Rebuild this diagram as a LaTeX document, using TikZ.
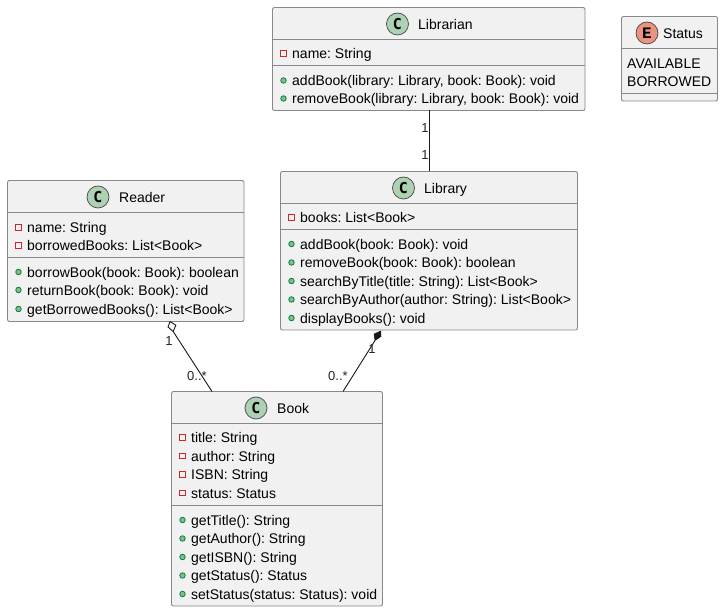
\documentclass[tikz,border=0pt]{standalone}
\usepackage{fontspec}
\setmainfont{Liberation Sans}
\newfontfamily\iconfont{Liberation Mono}
\newfontfamily\iconfontc{DejaVu Sans Mono}
\definecolor{boxfill}{HTML}{F1F1F1}
\definecolor{boxline}{HTML}{888888}
\definecolor{edge}{HTML}{181818}
\definecolor{classc}{HTML}{ADD1B2}
\definecolor{enumc}{HTML}{EB937F}
\definecolor{privc}{HTML}{C82930}
\definecolor{pubc}{HTML}{84BE84}
\definecolor{publ}{HTML}{038048}
\tikzset{
  classbox/.style={draw=boxline,fill=boxfill,line width=0.9pt,rounded corners=2pt,anchor=north west,inner sep=0pt,outer sep=0pt},
  sepline/.style={draw=boxline,line width=0.9pt},
  badge/.style={circle,draw=edge!80,line width=0.7pt,minimum size=22pt,inner sep=0pt,font=\iconfontc\bfseries\fontsize{15}{15}\selectfont},
  ebadge/.style={badge,font=\iconfont\bfseries\fontsize{16}{16}\selectfont},
  rowtext/.style={anchor=base west,inner sep=0pt,font=\frenchspacing\fontsize{14}{14}\selectfont,text=black},
  titletext/.style={rowtext},
  mult/.style={anchor=base,inner sep=0pt,font=\fontsize{13}{13}\selectfont,text=edge!95},
  privicon/.style={draw=privc,line width=0.8pt,fill=none,minimum size=5.5pt,inner sep=0pt},
  pubicon/.style={circle,draw=publ,line width=0.8pt,fill=pubc,minimum size=5.5pt,inner sep=0pt},
  link/.style={draw=edge,line width=0.9pt},
}
\newcommand{\privrow}[4]{%
  \node[privicon] (#1i) at (#2,#4) {};
  \node[rowtext] (#1) at (#2+8.5,#4+5.2) {#3};}
\newcommand{\pubrow}[4]{%
  \node[pubicon] (#1i) at (#2,#4) {};
  \node[rowtext] (#1) at (#2+8.5,#4+5.2) {#3};}
\newcommand{\sepat}[3]{\draw[sepline] (#1.west |- 0,#2) -- (#1.east |- 0,#2);}
\begin{document}
\begin{tikzpicture}[x=1pt,y=-1pt]
\useasboundingbox (0,0) rectangle (723,612);

% boxes
\node[classbox,minimum width=312.5pt,minimum height=103pt] (librarian) at (272.5,7.5) {};
\node[classbox,minimum width=96pt,minimum height=84.5pt] (status) at (621.5,16.5) {};
\node[classbox,minimum width=297pt,minimum height=158.5pt] (library) at (280.5,171.5) {};
\node[classbox,minimum width=236.5pt,minimum height=141pt] (reader) at (7.5,180.5) {};
\node[classbox,minimum width=211pt,minimum height=214.5pt] (book) at (171.5,391.5) {};

% separators
\sepat{librarian}{39.5}{}
\sepat{librarian}{65.5}{}
\sepat{status}{48.5}{}
\sepat{status}{93.5}{}
\sepat{library}{203.5}{}
\sepat{library}{229.5}{}
\sepat{reader}{212.5}{}
\sepat{reader}{257}{}
\sepat{book}{423.5}{}
\sepat{book}{505.5}{}

% headers
\node[badge,fill=classc] (cLibrarian) at (397.5,24) {C};
\node[titletext] (tLibrarian) at (418,29.5) {Librarian};
\node[ebadge,fill=enumc] (cStatus) at (647,33) {E};
\node[titletext] (tStatus) at (663,38.5) {Status};
\node[badge,fill=classc] (cLibrary) at (403.5,188) {C};
\node[titletext] (tLibrary) at (424,193.5) {Library};
\node[badge,fill=classc] (cReader) at (98,197) {C};
\node[titletext] (tReader) at (119,202.5) {Reader};
\node[badge,fill=classc] (cBook) at (256,408) {C};
\node[titletext] (tBook) at (277,413.5) {Book};

% Librarian
\privrow{la}{283.5}{name: String}{53.5}
\pubrow{lb}{283.5}{addBook(library: Library, book: Book): void}{80.5}
\pubrow{lc}{283.5}{removeBook(library: Library, book: Book): void}{98.5}

% Status
\node[rowtext] (sa) at (627,68.5) {AVAILABLE};
\node[rowtext] (sb) at (627,86.5) {BORROWED};

% Library
\privrow{ya}{291.5}{books: List<Book>}{217.5}
\pubrow{yb}{291.5}{addBook(book: Book): void}{244}
\pubrow{yc}{291.5}{removeBook(book: Book): boolean}{262.5}
\pubrow{yd}{291.5}{searchByTitle(title: String): List<Book>}{281}
\pubrow{ye}{291.5}{searchByAuthor(author: String): List<Book>}{299.5}
\pubrow{yf}{291.5}{displayBooks(): void}{318}

% Reader
\privrow{ra}{18.5}{name: String}{227.5}
\privrow{rb}{18.5}{borrowedBooks: List<Book>}{245.5}
\pubrow{rc}{18.5}{borrowBook(book: Book): boolean}{272}
\pubrow{rd}{18.5}{returnBook(book: Book): void}{290}
\pubrow{re}{18.5}{getBorrowedBooks(): List<Book>}{309}

% Book
\privrow{ba}{182.5}{title: String}{437.5}
\privrow{bb}{182.5}{author: String}{456}
\privrow{bc}{182.5}{ISBN: String}{474.5}
\privrow{bd}{182.5}{status: Status}{493}
\pubrow{be}{182.5}{getTitle(): String}{520}
\pubrow{bf}{182.5}{getAuthor(): String}{538.5}
\pubrow{bg}{182.5}{getISBN(): String}{557}
\pubrow{bh}{182.5}{getStatus(): Status}{575.5}
\pubrow{bi}{182.5}{setStatus(status: Status): void}{594}

% connectors
\coordinate (rdTip) at (reader.south -| 170,0);
\coordinate (bkL) at (book.north -| 212,0);
\coordinate (lyTip) at (380.8,331);
\coordinate (bkR) at (book.north -| 343,0);
\draw[link] (librarian.south -| 429.5,0) -- (library.north -| 429.5,0);
\draw[link,fill=white] (rdTip) -- (175.8,325.2) -- (173.2,331.5) -- (168,327) -- cycle;
\draw[link] (173.2,331.5) -- (bkL);
\draw[draw=edge,line width=0.5pt,fill=edge] (lyTip) -- (381,336.5) -- (375,340.5) -- (374,334) -- cycle;
\draw[link] (375,340.5) -- (bkR);

% multiplicities
\node[mult] (m1) at (425,133) {1};
\node[mult] (m2) at (425,160) {1};
\node[mult] (m3) at (169,345) {1};
\node[mult] (m4) at (197,380) {0..*};
\node[mult] (m5) at (372,353) {1};
\node[mult] (m6) at (338,380) {0..*};
\end{tikzpicture}
\end{document}
